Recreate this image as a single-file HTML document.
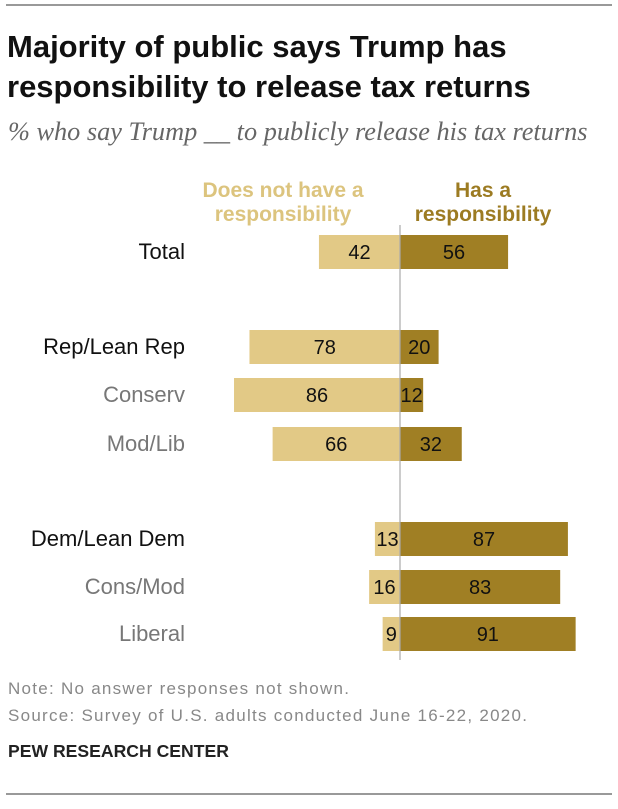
<!DOCTYPE html>
<html><head><meta charset="utf-8"><style>
body{margin:0;background:#fff;width:618px;height:804px;overflow:hidden;font-family:"Liberation Sans",sans-serif}
</style></head><body>
<svg width="618" height="804" xmlns="http://www.w3.org/2000/svg">
<line x1="6" y1="5" x2="612" y2="5" stroke="#333" stroke-width="1"/>
<text x="7" y="57" font-size="31" font-weight="bold" fill="#111">Majority of public says Trump has</text>
<text x="7" y="97" font-size="31" font-weight="bold" fill="#111">responsibility to release tax returns</text>
<text x="8" y="140" font-size="26.3" font-style="italic" font-family="Liberation Serif,serif" fill="#666">% who say Trump __ to publicly release his tax returns</text>
<text x="283" y="197" font-size="21" font-weight="bold" fill="#dcc47e" text-anchor="middle"><tspan x="283">Does not have a</tspan><tspan x="283" dy="24">responsibility</tspan></text>
<text x="483" y="197" font-size="21" font-weight="bold" fill="#9c7b22" text-anchor="middle"><tspan x="483">Has a</tspan><tspan x="483" dy="24">responsibility</tspan></text>
<g id="bars"></g>
<line x1="400" y1="225" x2="400" y2="660" stroke="#aaa" stroke-width="1.2"/>
<text x="8" y="694" font-size="17" fill="#888" textLength="341">Note: No answer responses not shown.</text>
<text x="8" y="721" font-size="17" fill="#888" textLength="519">Source: Survey of U.S. adults conducted June 16-22, 2020.</text>
<text x="8" y="757" font-size="17.6" font-weight="bold" fill="#222">PEW RESEARCH CENTER</text>
<line x1="6" y1="794" x2="612" y2="794" stroke="#333" stroke-width="1"/>
</svg>
<script>
const categories=["Total","Rep/Lean Rep","Conserv","Mod/Lib","Dem/Lean Dem","Cons/Mod","Liberal"];
const noResp=[42,78,86,66,13,16,9];
const hasResp=[56,20,12,32,87,83,91];
const isSub=[false,false,true,true,false,true,true];
const rowY=[252,347,395,444,539,587,634];
const ns="http://www.w3.org/2000/svg";
const cx=400,k=1.93,bh=34;
const g=document.getElementById("bars");
function mk(t,a){const e=document.createElementNS(ns,t);for(const n in a)e.setAttribute(n,a[n]);return e;}
categories.forEach((c,i)=>{
  const y=rowY[i];
  const lab=mk("text",{x:185,y:y+7,"font-size":22,"text-anchor":"end",fill:isSub[i]?"#777":"#111"});
  lab.textContent=c;
  
  
  g.appendChild(lab);
  const w1=noResp[i]*k;
  const r1=mk("rect",{x:cx-w1,y:y-bh/2,width:w1,height:bh,fill:"#e2c986"});
  
  
  g.appendChild(r1);
  const t1=mk("text",{x:cx-w1/2,y:y+7,"font-size":20,"text-anchor":"middle",fill:"#111"});
  t1.textContent=noResp[i];
  
  
  g.appendChild(t1);
  const w2=hasResp[i]*k;
  const r2=mk("rect",{x:cx,y:y-bh/2,width:w2,height:bh,fill:"#a07f24"});
  
  
  g.appendChild(r2);
  const t2=mk("text",{x:cx+w2/2,y:y+7,"font-size":20,"text-anchor":"middle",fill:"#111"});
  t2.textContent=hasResp[i];
  
  
  g.appendChild(t2);
});
</script>
</body></html>
